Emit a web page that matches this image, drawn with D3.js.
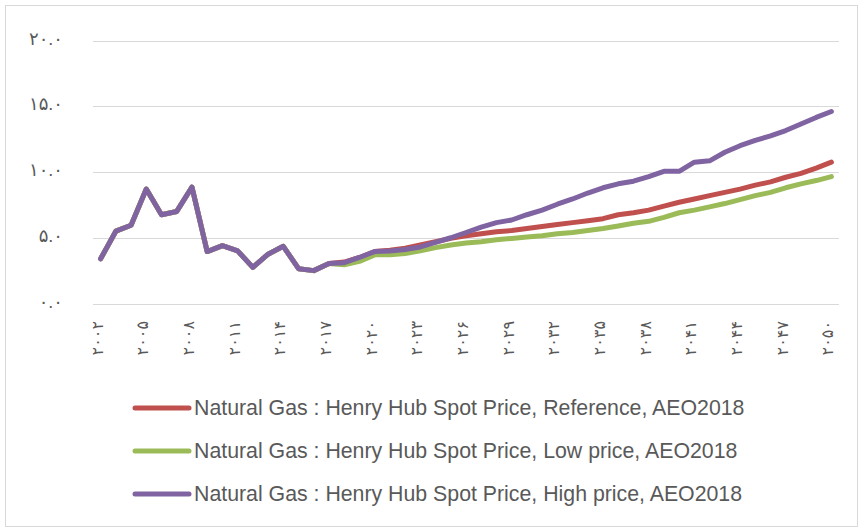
<!DOCTYPE html>
<html>
<head>
<meta charset="utf-8">
<script src="https://cdn.jsdelivr.net/npm/d3@7"></script>
<style>
  body { margin: 0; background: #fff; }
  text { font-family: "Liberation Sans", "DejaVu Sans", sans-serif; }
</style>
</head>
<body>
<div id="chart"></div>
<script>
var width = 863;
var height = 532;

// years on the category axis
var years = d3.range(2002, 2051);

// history 2002-2017, shared by all three series
var histValues = [3.4, 5.5, 5.95, 8.7, 6.75, 7.0, 8.85, 3.95, 4.4, 4.0, 2.75, 3.75, 4.35, 2.65, 2.5, 3.05];

// projections 2018-2050
var refValues = [3.15, 3.5, 3.95, 4.05, 4.2, 4.45, 4.7, 4.95, 5.15, 5.3, 5.45, 5.55, 5.7, 5.85, 6.0, 6.15, 6.3,
                 6.45, 6.75, 6.9, 7.1, 7.4, 7.7, 7.95, 8.2, 8.45, 8.7, 9.0, 9.25, 9.6, 9.9, 10.3, 10.75];
var lowValues = [2.95, 3.2, 3.7, 3.7, 3.8, 4.0, 4.25, 4.45, 4.6, 4.7, 4.85, 4.95, 5.05, 5.15, 5.3, 5.4, 5.55,
                 5.7, 5.9, 6.1, 6.25, 6.55, 6.9, 7.1, 7.35, 7.6, 7.9, 8.2, 8.45, 8.8, 9.1, 9.35, 9.65];
var highValues = [3.1, 3.5, 3.95, 4.0, 4.1, 4.3, 4.65, 5.0, 5.4, 5.8, 6.15, 6.35, 6.75, 7.1, 7.55, 7.95, 8.4,
                  8.8, 9.1, 9.3, 9.65, 10.05, 10.05, 10.75, 10.85, 11.5, 12.0, 12.4, 12.75, 13.15, 13.65, 14.15, 14.6];

var seriesNames = [
  "Natural Gas : Henry Hub Spot Price, Reference, AEO2018",
  "Natural Gas : Henry Hub Spot Price, Low price, AEO2018",
  "Natural Gas : Henry Hub Spot Price, High price, AEO2018"
];
var seriesColors = ["#C0504D", "#9BBB59", "#8064A2"];
var yTicks = [0, 5, 10, 15, 20];
var xTickYears = d3.range(2002, 2051, 3);

var series = [refValues, lowValues, highValues].map(function(proj, i) {
  return {name: seriesNames[i], color: seriesColors[i], values: histValues.concat(proj)};
});

// persian digits
function fa(s) {
  return String(s).replace(/[0-9]/g, function(d) { return "۰۱۲۳۴۵۶۷۸۹"[+d]; });
}

var svg = d3.select("#chart").append("svg").attr("width", width).attr("height", height);

// outer frame
svg.append("rect")
   .attr("x", 5.5).attr("y", 5.5)
   .attr("width", width - 11).attr("height", height - 11)
   .attr("fill", "#fff")
   .attr("stroke", "#D9D9D9")
   .attr("stroke-width", 1);

var plotLeft = 93, plotRight = 839, plotTop = 40.5, plotBottom = 303.5;

var x = d3.scalePoint().domain(years).range([plotLeft, plotRight]).padding(0.5);
var y = d3.scaleLinear().domain([0, 20]).range([plotBottom, plotTop]);

// gridlines
svg.append("g")
   .selectAll("line")
   .data(yTicks)
   .enter().append("line")
   .attr("x1", plotLeft).attr("x2", plotRight)
   .attr("y1", d => Math.round(y(d)) + 0.5).attr("y2", d => Math.round(y(d)) + 0.5)
   .attr("stroke", "#D9D9D9")
   .attr("stroke-width", 1);

// y labels
svg.append("g")
   .selectAll("text")
   .data(yTicks)
   .enter().append("text")
   .attr("x", 63)
   .attr("y", d => y(d) + 4)
   .attr("text-anchor", "end")
   .attr("fill", "#595959")
   .style("font-size", "18px")
   .text(d => fa(d3.format(".1f")(d)));

// x labels, rotated
svg.append("g")
   .selectAll("text")
   .data(xTickYears)
   .enter().append("text")
   .attr("transform", d => "translate(" + (x(d) + 2) + ",321) rotate(-90)")
   .attr("text-anchor", "end")
   .attr("fill", "#595959")
   .style("font-size", "16px")
   .text(d => fa(d));

var line = d3.line()
             .x((d, i) => x(years[i]))
             .y(d => y(d));

svg.append("g")
   .selectAll("path")
   .data(series)
   .enter().append("path")
   .attr("d", d => line(d.values))
   .attr("fill", "none")
   .attr("stroke", d => d.color)
   .attr("stroke-width", 5)
   .attr("stroke-linejoin", "round")
   .attr("stroke-linecap", "round");

// legend
var legend = svg.append("g")
                .selectAll("g")
                .data(series)
                .enter().append("g")
                .attr("transform", (d, i) => "translate(0," + (408 + i * 43) + ")");

legend.append("line")
      .attr("x1", 135).attr("x2", 189)
      .attr("y1", 0).attr("y2", 0)
      .attr("stroke", d => d.color)
      .attr("stroke-width", 5)
      .attr("stroke-linecap", "round");

legend.append("text")
      .attr("x", 194)
      .attr("y", 7)
      .attr("fill", "#595959")
      .style("font-size", "21.3px")
      .text(d => d.name);
</script>
</body>
</html>
